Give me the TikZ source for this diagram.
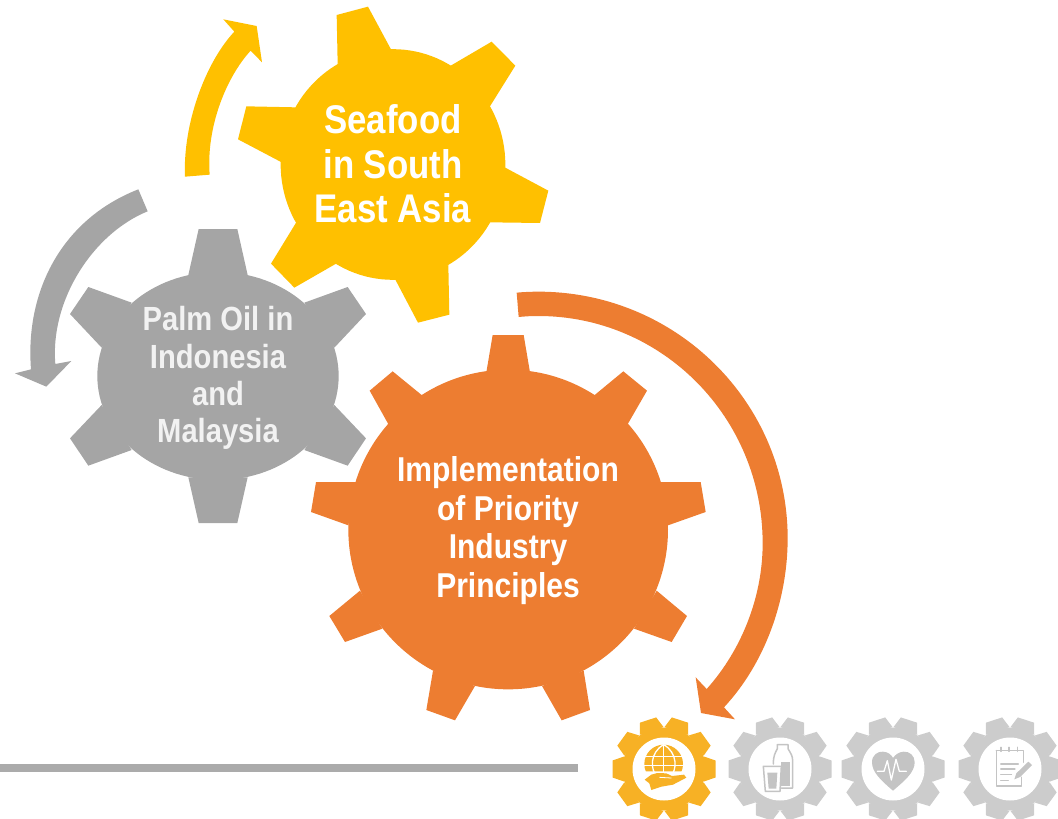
\documentclass[tikz,border=0pt]{standalone}
\usepackage{fontspec}
\newfontfamily\gearfont[FakeStretch=0.87]{Liberation Sans}
\definecolor{gy}{HTML}{FFC000}
\definecolor{gg}{HTML}{A5A5A5}
\definecolor{go}{HTML}{ED7D31}
\definecolor{bar}{HTML}{ABABAB}
\definecolor{iy}{HTML}{F7B125}
\definecolor{ig}{HTML}{CCCCCC}
\definecolor{ih}{HTML}{C4C4C4}
\tikzset{
  zoomed/.style={shift={#1},scale=0.33333},
  geartext/.style={align=center,inner sep=0pt},
  iconline/.style={draw=ih,line width=1.5pt,line join=round,line cap=round},
  whiteline/.style={draw=white,line width=1.3pt,line join=round,line cap=round},
}
\newcommand{\icongear}[3]{%
  \begin{scope}[shift={(#1,#2)}]
    \fill[#3] (0,0) circle[radius=41.5];
    \foreach \a in {18,54,...,342}{\fill[#3,rotate=\a] (-12.5,-40) -- (-8.5,-51.5) -- (8.5,-51.5) -- (12.5,-40) -- cycle;}
    \fill[white] (0,0) circle[radius=31.5];
  \end{scope}}
\begin{document}
\begin{tikzpicture}[x=1pt,y=-1pt]
\useasboundingbox (0,0) rectangle (1058,819);
% yellow arrow
\begin{scope}[zoomed={(0,0)}]
\fill[gy] (555,530) .. controls (548,370) and (618,185) .. (703,95) -- (670,58) -- (770,78) -- (786,187) -- (752,152)
  .. controls (680,230) and (618,380) .. (629,524) -- cycle;
\fill[gg] (415,568) .. controls (180,660) and (75,880) .. (93,1108) -- (45,1120) -- (139,1160) -- (214,1083) -- (166,1092)
  .. controls (150,900) and (280,700) .. (443,634) -- cycle;
\end{scope}
% orange arrow
\begin{scope}[zoomed={(500,280)}]
\fill[go] (50,38) .. controls (70,36) and (95,35) .. (115,35) .. controls (528,35) and (863,366) .. (863,775)
  .. controls (863,960) and (795,1150) .. (672,1282) -- (705,1318) -- (603,1299) -- (587,1192) -- (620,1227)
  .. controls (725,1110) and (788,950) .. (788,790) .. controls (788,413) and (487,108) .. (115,108)
  .. controls (95,108) and (75,109) .. (56,111) -- cycle;
\end{scope}
% yellow gear
\begin{scope}[zoomed={(230,0)}]
\fill[gy] (489,493.5) ellipse[x radius=337,y radius=346];
\fill[gy] (323,192) -- (320,45) -- (414,20) -- (484,150) -- cycle;
\fill[gy] (657,200) -- (785,125) -- (856,197) -- (778,322) -- cycle;
\fill[gy] (824,502) -- (955,572) -- (930,669) -- (780,667) -- cycle;
\fill[gy] (655,795) -- (658,944) -- (564,968) -- (495,837) -- cycle;
\fill[gy] (320,790) -- (193,863) -- (123,791) -- (200,665) -- cycle;
\fill[gy] (155,487) -- (24,418) -- (49,319) -- (197,322) -- cycle;
\end{scope}
% gray gear
\begin{scope}[zoomed={(60,225)}]
\fill[gg] (474,453) ellipse[x radius=362,y radius=312];
\fill[gg] (385,150) -- (416,12) -- (532,12) -- (563,150) -- cycle;
\fill[gg] (733,233) -- (863,186) -- (918,267) -- (823,368) -- cycle;
\fill[gg] (823,540) -- (918,640) -- (863,722) -- (733,675) -- cycle;
\fill[gg] (563,757) -- (532,894) -- (416,894) -- (385,757) -- cycle;
\fill[gg] (215,675) -- (85,722) -- (30,640) -- (125,540) -- cycle;
\fill[gg] (125,368) -- (30,267) -- (85,186) -- (215,233) -- cycle;
\end{scope}
% orange gear
\begin{scope}[zoomed={(305,330)}]
\fill[go] (609.5,598.5) circle[radius=479.5];
\fill[go] (543,133) -- (563,15) -- (656,15) -- (676,133) -- cycle;
\fill[go] (863,200) -- (955,124) -- (1026,182) -- (966,286) -- cycle;
\fill[go] (1065,456) -- (1187,456) -- (1202,546) -- (1089,586) -- cycle;
\fill[go] (1055,782) -- (1146,858) -- (1100,936) -- (987,896) -- cycle;
\fill[go] (836,1022) -- (855,1140) -- (770,1171) -- (711,1068) -- cycle;
\fill[go] (510,1068) -- (450,1171) -- (364,1140) -- (384,1022) -- cycle;
\fill[go] (232,896) -- (120,936) -- (73,858) -- (165,782) -- cycle;
\fill[go] (130,586) -- (18,546) -- (33,456) -- (154,456) -- cycle;
\fill[go] (252,286) -- (194,182) -- (263,124) -- (356,200) -- cycle;
\end{scope}
% labels
\node[geartext,text=white,font={\gearfont\bfseries\fontsize{40}{44.5}\selectfont}] (seafood) at (393,164) {Seafood\\in South\\East Asia};
\node[geartext,text=white!95!black,font={\gearfont\bfseries\fontsize{33.5}{37.3}\selectfont}] (palm) at (218,378) {Palm Oil in\\Indonesia\\and\\Malaysia};
\node[geartext,text=white,font={\gearfont\bfseries\fontsize{34.5}{38.5}\selectfont}] (impl) at (508,530.5) {Implementation\\of Priority\\Industry\\Principles};
% bar
\fill[bar] (0,763.5) rectangle (578,771.7);
% icon gears
\icongear{664}{769}{iy}
\icongear{780}{769}{ig}
\icongear{893}{769}{ig}
\icongear{1010}{769}{ig}
% globe and hand
\begin{scope}[zoomed={(608,714)}]
\fill[iy] (167,150) circle[radius=58];
\draw[whiteline] (112,127) -- (222,127) (109,155) -- (225,155) (167,92) -- (167,190);
\draw[whiteline] (167,92) .. controls (125,115) and (125,170) .. (150,190);
\draw[whiteline] (167,92) .. controls (209,115) and (209,170) .. (185,190);
\fill[white] (108,172) -- (225,172) -- (240,195) -- (190,225) -- (130,235) -- (105,200) -- cycle;
\fill[iy] (110,197) -- (130,182) -- (148,177) -- (175,178) -- (192,186) -- (228,182) -- (235,191) -- (195,212) -- (160,218) -- (130,228) -- (124,208) -- cycle;
\draw[whiteline,line width=.8pt] (155,190) -- (190,192);
\end{scope}
% milk and glass
\begin{scope}[zoomed={(724,714)}]
\draw[iconline] (160,92) -- (192,92) -- (192,104) .. controls (200,118) and (206,125) .. (206,140) -- (206,222) -- (172,222);
\draw[iconline] (160,92) -- (160,104) .. controls (153,118) and (148,125) .. (148,150);
\fill[ih] (172,144) -- (198,144) -- (198,216) -- (172,216) -- cycle;
\draw[iconline] (118,157) -- (172,157) -- (168,232) -- (124,232) -- cycle;
\fill[ih] (130,176) -- (160,176) -- (157,224) -- (134,224) -- cycle;
\end{scope}
% heart
\begin{scope}[zoomed={(838,714)}]
\fill[ih] (165,230) .. controls (130,200) and (102,175) .. (102,145) .. controls (102,122) and (120,112) .. (135,113)
  .. controls (150,114) and (160,122) .. (165,132) .. controls (172,122) and (182,114) .. (197,113)
  .. controls (215,112) and (230,125) .. (230,145) .. controls (230,175) and (200,200) .. (165,230) -- cycle;
\draw[whiteline] (118,172) -- (138,172) -- (148,140) -- (160,198) -- (174,136) -- (184,172) -- (205,172);
\end{scope}
% notepad
\begin{scope}[zoomed={(955,714)}]
\draw[iconline] (124,110) -- (124,216) -- (200,216) -- (200,182);
\draw[iconline] (124,110) -- (205,110) -- (205,145);
\draw[iconline] (138,112) -- (138,100) (162,112) -- (162,100) (188,112) -- (188,100);
\draw[iconline,line width=1.1pt] (137,150) -- (190,150) (137,165) -- (180,165) (137,182) -- (170,182) (137,200) -- (160,200);
\fill[white] (170,190) -- (222,135) -- (238,150) -- (182,205) -- cycle;
\fill[ih] (178,196) -- (184,178) -- (220,143) -- (231,153) -- (195,189) -- cycle;
\end{scope}
\end{tikzpicture}
\end{document}
